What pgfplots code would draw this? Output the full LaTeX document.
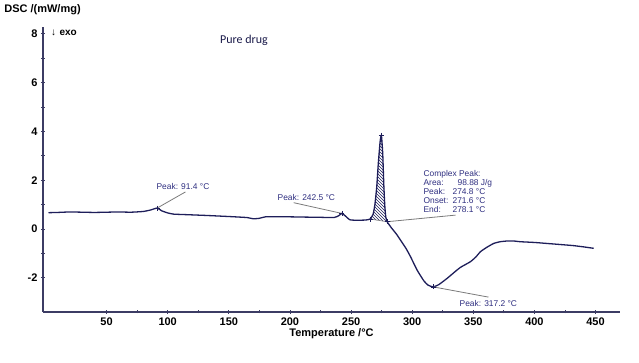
\documentclass[border=0pt]{standalone}
\usepackage{fontspec}
\setmainfont{Liberation Sans}
\newfontfamily\calib{Carlito}
\usepackage{pgfplots}
\pgfplotsset{compat=1.18}
\usetikzlibrary{patterns}
\definecolor{curve}{HTML}{1E1E5A}
\definecolor{axiscol}{HTML}{3C3C64}
\definecolor{annot}{HTML}{2E2E80}
\definecolor{leader}{HTML}{7A7A7A}
\pgfplotstableread{
x y
2.5 0.67
10 0.68
20 0.70
30 0.69
40 0.68
50 0.69
60 0.70
70 0.69
80 0.72
86 0.78
91.4 0.86
95 0.75
100 0.66
105 0.61
115 0.59
130 0.56
143 0.53
155 0.50
165 0.47
170 0.42
175 0.44
180 0.50
190 0.50
200 0.50
211 0.49
225 0.48
236 0.47
240 0.55
242.5 0.64
245 0.55
249 0.38
255 0.36
262 0.37
265.5 0.41
268 0.60
269.5 1.00
271 1.73
272.3 2.70
273.8 3.60
274.8 3.85
275.9 3.10
276.8 1.80
277.6 0.95
278.4 0.50
279.5 0.30
283 0.05
287 -0.20
290.4 -0.45
295 -0.80
298.6 -1.13
304 -1.68
309.5 -2.12
313 -2.30
317.2 -2.37
321.7 -2.28
328.6 -2.02
335 -1.75
339.5 -1.57
347.6 -1.34
352 -1.15
355.8 -0.93
361 -0.75
366.7 -0.59
372 -0.52
377.7 -0.49
383 -0.49
388.5 -0.52
400 -0.55
410 -0.59
420 -0.63
432 -0.68
440 -0.73
448.5 -0.79
}\dsc
\begin{document}
\begin{tikzpicture}
\path[use as bounding box] (-43pt,-51pt) rectangle (596pt,312pt);
\begin{axis}[
  width=577pt, height=285pt, scale only axis,
  xmin=-2, xmax=470, ymin=-3.4, ymax=8.28,
  axis lines*=left,
  axis line style={axiscol, line width=1.2pt},
  xtick={50,100,...,450}, ytick={-2,0,...,8},
  minor x tick num=1, minor y tick num=1,
  tick align=center,
  major tick length=4pt, minor tick length=3pt,
  tick style={axiscol, line width=0.8pt},
  /pgf/number format/assume math mode=true,
  ticklabel style={font=\bfseries\fontsize{11}{12}\selectfont},
  xlabel={Temperature /°C},
  xlabel style={font=\bfseries\fontsize{11}{12}\selectfont, yshift=4pt},
  clip=false,
]
\addplot[draw=none, pattern=north west lines, pattern color=curve] coordinates {
(265.5,0.41) (268,0.60) (269.5,1.00) (271,1.73) (272.3,2.70) (273.8,3.60) (274.8,3.85)
(275.9,3.10) (276.8,1.80) (277.6,0.95) (278.4,0.50) (279.5,0.30)} -- cycle;
\addplot[curve, line width=1.3pt, smooth, tension=0.3] table {\dsc};
% leader lines
\addplot[leader, line width=0.8pt] coordinates {(91.4,0.86) (114.5,1.52)};
\addplot[leader, line width=0.8pt] coordinates {(242.5,0.64) (203,1.08)};
\addplot[leader, line width=0.8pt] coordinates {(279.5,0.30) (335.4,0.57)};
\addplot[leader, line width=0.8pt] coordinates {(317.2,-2.37) (362.4,-2.79)};
\addplot[leader, line width=0.6pt] coordinates {(265.5,0.41) (279.5,0.30)};
\addplot[only marks, mark=+, mark size=2.5pt, curve, line width=0.7pt] coordinates {
(91.4,0.86) (242.5,0.64) (265.5,0.41) (274.8,3.85) (279.5,0.30) (317.2,-2.37)};
% annotations
\begin{scope}[every node/.style={font=\fontsize{8.4}{9}\selectfont, text=annot, inner sep=0pt}]
\node[anchor=base west] at (axis cs:90.8,1.6) {Peak: 91.4 °C};
\node[anchor=base west] at (axis cs:189.8,1.15) {Peak: 242.5 °C};
\node[anchor=base west] at (axis cs:338.7,-3.16) {Peak: 317.2 °C};
\node[anchor=base west] at (axis cs:309.2,2.17) {Complex Peak:};
\node[anchor=base west] at (axis cs:309.2,1.80) {Area:};
\node[anchor=base west] at (axis cs:337.0,1.80) {98.88 J/g};
\node[anchor=base west] at (axis cs:309.2,1.42) {Peak:};
\node[anchor=base west] at (axis cs:332.9,1.42) {274.8 °C};
\node[anchor=base west] at (axis cs:309.2,1.04) {Onset:};
\node[anchor=base west] at (axis cs:332.9,1.04) {271.6 °C};
\node[anchor=base west] at (axis cs:309.2,0.66) {End:};
\node[anchor=base west] at (axis cs:332.9,0.66) {278.1 °C};
\end{scope}
\end{axis}
\node[font=\bfseries\fontsize{11}{12}\selectfont, inner sep=0pt] at (-0.5pt,302pt) {DSC /(mW/mg)};
\node[font=\bfseries\fontsize{10}{12}\selectfont, inner sep=0pt, anchor=west] at (8pt,279pt) {↓\,\,exo};
\node[font=\calib\fontsize{12}{14}\selectfont, text=curve!80!black, inner sep=0pt] at (201pt,272pt) {Pure drug};
\end{tikzpicture}
\end{document}
